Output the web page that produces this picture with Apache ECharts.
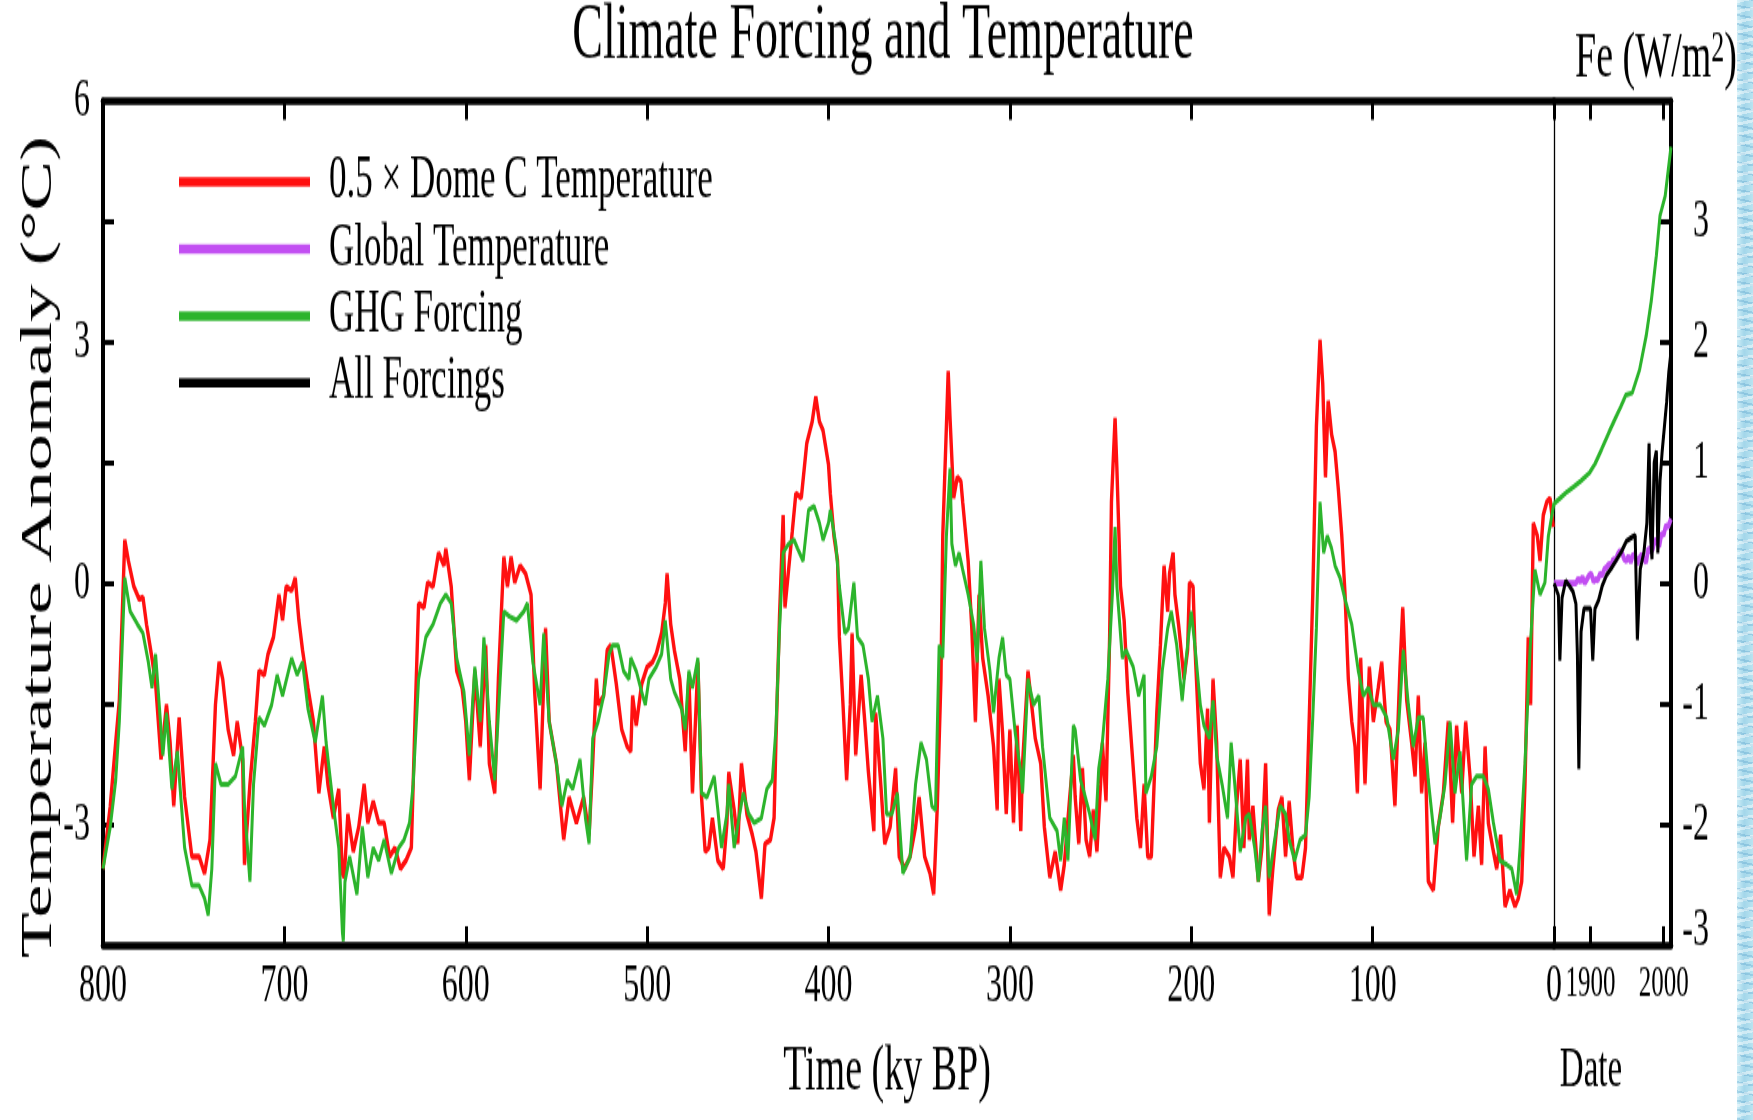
<!DOCTYPE html>
<html>
<head>
<meta charset="utf-8">
<title>Climate Forcing and Temperature</title>
<script src="https://cdn.jsdelivr.net/npm/echarts@6/dist/echarts.min.js"></script>
<style>
  html, body { margin: 0; padding: 0; background: #fff; width: 1753px; height: 1120px; overflow: hidden; }
  #chart {
    position: absolute; left: 0; top: 0;
    width: 1753px; height: 659px;
    transform: scaleY(1.6995); transform-origin: 0 0;
  }
  #edge {
    position: absolute; left: 1737px; top: 0; width: 16px; height: 1120px;
    background:
      repeating-linear-gradient(168deg, rgba(255,255,255,0.45) 0 3px, rgba(255,255,255,0) 3px 10px),
      repeating-linear-gradient(12deg, rgba(60,140,190,0.25) 0 2px, rgba(60,140,190,0) 2px 9px),
      linear-gradient(90deg, #cdeef7 0%, #a3d6ea 45%, #b9e4f1 100%);
  }
</style>
</head>
<body>
<div id="chart"></div>
<div id="edge"></div>
<script>
// ---- Paleo record: 0.5 x Dome C temperature (°C) vs. age (ky BP) ----
const domeCAge = [
  800,796,793,791,788,786,783,780,778,776,773,771,768,765,763,761,758,755,751,747,
  744,741,738,736,734,731,728,726,723,722,719,716,714,711,709,706,703,701,699,696,
  694,692,690,687,684,681,678,676,673,670,668,667,665,662,659,656,654,651,648,645,
  642,639,636,633,630,628,626,623,621,618,615,612,611,608,605,602,600,598,595,592,
  589,587,584,582,579,577,575,573,570,567,564,562,559,556,554,550,546,543,539,535,
  532,530,528,527,524,522,520,517,514,511,509,508,506,503,500,497,495,492,490,489,
  487,485,482,479,477,475,472,470,468,466,464,461,458,456,455,452,450,448,445,442,
  440,437,435,432,430,429,427,425,424,422,420,418,415,412,409,407,405,403,400,399,
  397,395,394,392,390,388,387,385,382,380,378,375,374,371,369,366,363,361,358,355,
  352,350,347,344,342,340,338,337,335,334,333,331,329,327,326,323,321,319,317,315,
  312,309,307,306,304,302,300,298,296,294,293,290,288,286,283,281,278,275,272,270,
  267,265,264,262,260,258,256,254,252,250,249,247,245,244,242,241,239,237,235,233,
  230,228,226,224,222,219,217,215,213,212,210,209,207,204,202,201,199,198,195,193,
  191,190,188,186,184,182,179,177,175,173,171,169,168,166,163,161,159,157,155,152,
  150,148,146,144,142,139,137,135,133,131,129,127.5,126,124.5,122.6,120.7,118.9,117,115.2,113.4,
  111.5,109.7,108.4,106.6,104.2,101.8,99.6,96.9,95,92.6,90.4,87.7,84.9,83.4,81.2,78.5,76.6,74.8,73,71.1,
  69.3,66.5,63.8,61,58.3,55.9,53.7,50.9,48.7,46.3,44.1,41.7,39.9,38,36.2,33.8,31.6,29.4,27,24.3,
  21.5,19.7,17.8,16,14.2,12.9,11.4,9.2,7.7,5.9,4,2.2,0.4
];
const domeCTemp = [
  -3.55,-2.77,-1.98,-1.46,0.54,0.28,-0.04,-0.20,-0.17,-0.51,-0.93,-1.25,-2.19,-1.51,-1.98,-2.77,-1.67,-2.66,-3.40,-3.40,
  -3.61,-3.19,-1.51,-0.98,-1.19,-1.82,-2.14,-1.72,-2.19,-3.50,-2.50,-1.72,-1.09,-1.14,-0.88,-0.67,-0.14,-0.46,-0.04,-0.09,
  0.07,-0.46,-0.83,-1.30,-1.72,-2.61,-2.03,-2.50,-2.92,-2.56,-3.61,-3.66,-2.87,-3.34,-3.03,-2.50,-2.98,-2.71,-2.98,-2.98,
  -3.40,-3.29,-3.55,-3.45,-3.29,-1.72,-0.25,-0.30,0.01,-0.04,0.38,0.22,0.43,-0.04,-1.09,-1.30,-1.72,-2.45,-1.09,-2.03,
  -0.77,-2.24,-2.61,-1.19,0.33,-0.04,0.33,0.01,0.22,0.12,-0.14,-1.35,-2.56,-0.56,-1.72,-2.24,-3.19,-2.66,-2.98,-2.66,
  -3.13,-2.24,-1.19,-1.51,-1.40,-0.83,-0.77,-1.25,-1.82,-2.03,-2.09,-1.40,-1.77,-1.25,-1.04,-0.98,-0.88,-0.62,-0.25,0.12,
  -0.51,-0.83,-1.19,-2.09,-1.14,-2.61,-0.98,-2.66,-3.34,-3.29,-2.92,-3.45,-3.55,-2.98,-2.35,-2.82,-3.24,-2.24,-2.87,-3.13,
  -3.34,-3.92,-3.24,-3.19,-2.92,-1.98,-0.41,0.85,-0.30,0.17,0.64,1.12,1.06,1.74,2.01,2.32,2.01,1.90,1.48,1.12,
  0.59,0.28,-0.67,-1.51,-2.45,-1.51,-0.62,-2.14,-1.14,-1.72,-2.35,-3.08,-1.61,-2.56,-3.24,-3.03,-2.30,-3.40,-3.55,-3.40,
  -3.03,-2.66,-3.40,-3.61,-3.87,-2.77,-1.19,0.59,1.95,2.64,2.06,1.06,1.32,1.27,1.01,0.28,-0.56,-1.72,-0.14,-0.93,
  -1.40,-2.03,-2.82,-1.19,-1.87,-2.87,-1.82,-2.98,-1.77,-3.08,-2.24,-1.09,-1.51,-1.93,-2.24,-3.03,-3.66,-3.34,-3.82,-3.50,
  -2.66,-2.14,-2.66,-3.24,-2.30,-3.19,-3.40,-2.82,-3.34,-2.50,-1.98,-2.71,-0.67,1.01,2.06,1.43,-0.04,-0.46,-1.35,-1.98,
  -2.92,-3.29,-2.50,-3.40,-3.40,-1.61,-0.77,0.22,-0.35,0.12,0.38,-0.14,-0.51,-1.19,-0.83,0.01,-0.04,-0.77,-2.24,-2.56,
  -1.56,-2.98,-1.19,-1.98,-3.66,-3.29,-3.40,-3.66,-2.77,-2.19,-3.29,-2.19,-3.19,-2.77,-3.71,-3.29,-2.24,-4.13,-3.55,-2.82,
  -2.66,-3.40,-2.71,-3.29,-3.66,-3.66,-3.29,-1.72,-0.14,1.95,3.03,2.48,1.32,2.27,1.85,1.64,1.17,0.59,-0.14,-1.19,
  -1.72,-2.03,-2.61,-0.93,-2.50,-1.04,-1.72,-1.30,-0.98,-1.72,-1.82,-2.77,-1.04,-0.30,-1.46,-1.98,-2.40,-1.40,-2.61,-1.98,
  -3.71,-3.82,-3.03,-2.61,-1.72,-2.98,-1.77,-2.61,-1.72,-2.40,-3.40,-2.77,-3.50,-2.03,-2.98,-3.29,-3.55,-3.13,-4.02,-3.82,
  -4.02,-3.92,-3.71,-2.50,-0.67,-1.51,0.75,0.59,0.28,0.85,1.01,1.06,0.70
];

// ---- Paleo GHG forcing, drawn on the temperature scale (1 W/m² = 1.5 °C) ----
const ghgPaleoAge = [
  800,796,793,791,788,785,781,778,775,773,771,769,767,765,762,759,755,751,747,744,
  742,740,738,735,731,727,723,722,719,717,714,711,707,704,701,696,693,690,687,683,
  679,677,673,670,668,667.5,666.6,664,660,657,654,651,648,645,641,637,634,631,629,626,
  622,618,614,611,608,605,601,598,595,592,590,587,584,581,579,576,572,568,566,563,
  559,557,554,550,547,544,541,537,534,532,530,527,524,521,519,516,513,510,509,506,
  503,501,499,495,492,490,487,485,481,479,477,475,472,470,467,463,461,459,456,455,
  452,449,447,444,441,437,434,431,429,427,425,422,419,417,414,411,408,405,403,400,
  399,396,394,391,389,386,384,381,378,376,373,370,368,365,362,359,355,352,349,346,
  343,341,339,337,335,333,332,330,328,326,323,320,318,316,314,311,309,306,304,302,
  300,297,294,293,290,287,284,282,278,274,272,270,268,265,264,261,259,256,253,251,
  249,246,243.5,242,241,238,236,232,229,226,225,222,219,216,213,211,208,205,203,200,
  198,195,193,190,188,186,183,180,178,176,173,170,168,165,163,161,159,157,154,151,
  148,146,143,140,137,135,133,131,129,127,125,122.6,120.7,118,115.2,111.5,107.9,105.1,102.3,99.6,
  95.9,92.2,88.6,85.8,83.1,80.3,77.6,74.8,72.1,69.3,65.6,62.9,60.1,57.3,54.6,51.8,48.2,45.4,42.6,39,
  36.2,33.4,29.8,26.1,23.3,20.6,18.7,16,13.2,10.5,7.7,5,3.1,0
];
const ghgPaleoTemp = [
  -3.55,-3.03,-2.45,-1.72,0.07,-0.35,-0.51,-0.62,-0.98,-1.30,-0.88,-1.51,-2.14,-1.61,-2.56,-2.09,-3.29,-3.76,-3.76,-3.92,
  -4.13,-3.55,-2.24,-2.50,-2.50,-2.40,-2.03,-2.77,-3.71,-2.50,-1.67,-1.77,-1.51,-1.14,-1.40,-0.93,-1.14,-0.98,-1.56,-1.98,
  -1.40,-1.98,-2.77,-3.29,-4.34,-4.45,-3.71,-3.40,-3.87,-3.03,-3.66,-3.29,-3.45,-3.19,-3.61,-3.29,-3.19,-2.98,-2.50,-1.19,
  -0.67,-0.51,-0.25,-0.14,-0.25,-0.93,-1.35,-2.14,-1.04,-1.72,-0.67,-1.72,-2.45,-1.19,-0.35,-0.41,-0.46,-0.35,-0.25,-0.98,
  -1.51,-0.62,-1.72,-2.24,-2.77,-2.45,-2.56,-2.19,-2.92,-3.24,-1.93,-1.72,-1.40,-0.88,-0.77,-0.77,-1.09,-1.19,-0.93,-1.09,
  -1.35,-1.51,-1.19,-1.04,-0.88,-0.46,-1.19,-1.35,-1.56,-1.82,-1.09,-1.30,-0.93,-2.61,-2.66,-2.40,-2.82,-3.29,-2.87,-2.50,
  -3.29,-2.87,-2.61,-2.87,-2.98,-2.92,-2.56,-2.45,-1.82,-0.57,0.38,0.49,0.54,0.43,0.28,0.91,0.96,0.75,0.54,0.75,
  0.91,0.49,-0.04,-0.62,-0.56,0.01,-0.67,-0.77,-1.19,-1.72,-1.40,-1.93,-2.87,-2.87,-2.61,-3.61,-3.40,-2.50,-1.98,-2.19,
  -2.77,-2.82,-0.77,-0.93,0.59,1.43,0.49,0.22,0.38,0.17,-0.14,-0.51,-0.98,0.28,-0.56,-1.09,-1.61,-0.93,-0.67,-1.14,
  -1.19,-1.87,-2.35,-2.61,-1.19,-1.51,-1.40,-2.03,-2.92,-3.08,-3.45,-2.92,-3.45,-1.77,-1.82,-2.45,-2.61,-2.87,-3.19,-2.30,
  -1.98,-1.19,-0.14,0.70,-0.04,-0.93,-0.83,-1.04,-1.40,-1.14,-2.61,-2.40,-2.03,-1.09,-0.56,-0.35,-0.77,-1.46,-0.98,-0.35,
  -0.77,-1.51,-1.77,-1.93,-1.46,-2.14,-2.50,-2.92,-1.98,-2.50,-3.34,-2.92,-2.87,-3.29,-3.71,-3.08,-2.77,-3.66,-3.19,-2.77,
  -2.87,-3.19,-3.45,-3.19,-3.13,-2.66,-1.67,-0.56,1.01,0.38,0.59,0.43,0.22,0.07,-0.20,-0.51,-1.09,-1.40,-1.30,-1.51,
  -1.51,-1.67,-2.19,-1.82,-0.83,-1.51,-2.03,-1.67,-1.67,-2.45,-3.24,-2.92,-2.50,-1.72,-2.61,-2.09,-3.45,-2.50,-2.40,-2.40,
  -2.56,-2.98,-3.45,-3.50,-3.55,-3.87,-3.29,-2.24,-0.83,0.17,-0.14,0.01,0.59,1.00
];

// ---- Instrumental era (right panel) ----
const recentGhgYears   = [1850,1859,1868,1877,1887,1899,1906,1915,1925,1934,1941,1948,1957,1967,1976,1983,1990,1995,2002,2010];
const recentGhgForcing = [0.66,0.71,0.76,0.80,0.85,0.92,0.99,1.11,1.25,1.37,1.46,1.56,1.58,1.77,2.05,2.34,2.72,3.05,3.21,3.62];

const allForcingYears  = [1850,1853,1856,1858,1861,1866,1871,1876,1880,1882,1884,1887,1891,1896,1900,1903,1906,1911,1916,1922,
                          1928,1935,1942,1949,1956,1961,1964,1968,1973,1977,1980,1982,1984,1987,1990,1992,1995,1998,2001,2004,2007,2010];
const allForcingValues = [0.00,-0.05,-0.10,-0.64,-0.12,0.02,-0.02,-0.07,-0.17,-0.59,-1.54,-0.40,-0.21,-0.21,-0.21,-0.64,-0.21,-0.14,-0.02,0.07,
                          0.12,0.19,0.26,0.35,0.38,0.40,-0.47,0.12,0.26,0.50,1.16,0.40,0.20,1.00,1.10,0.25,0.85,1.10,1.30,1.50,1.75,1.92];

const globalTempYears  = [1850,1880,1883,1886,1889,1892,1895,1898,1901,1904,1907,1910,1913,1916,1919,1922,1925,1928,1931,1934,
                          1937,1940,1943,1946,1949,1952,1955,1958,1961,1964,1967,1970,1973,1976,1979,1982,1985,1988,1991,1994,
                          1997,2000,2003,2006,2010];
const globalTempValues = [0.00,0.00,0.06,0.02,0.08,0.00,0.05,0.10,0.12,0.02,0.05,0.04,0.12,0.10,0.18,0.20,0.24,0.22,0.30,0.28,
                          0.36,0.40,0.38,0.30,0.28,0.34,0.26,0.36,0.34,0.24,0.32,0.36,0.30,0.26,0.44,0.40,0.42,0.55,0.50,0.46,
                          0.62,0.60,0.72,0.70,0.80];

// Axis ticks / labels
const kyTicks   = [800, 700, 600, 500, 400, 300, 200, 100, 0];
const dateTicks = [1900, 2000];
const legendNames = ['0.5 \u00d7 Dome C Temperature', 'Global Temperature', 'GHG Forcing', 'All Forcings'];

const zip = (xs, ys) => xs.map((x, i) => [x, ys[i]]);

// Layout is drawn in a vertically compressed frame that CSS stretches back out.
const SY = 1.6995;
const px = v => v / SY;          // full-height pixel -> frame pixel
const frameTop = px(101), frameBottom = px(945);
const leftEdge = 103, splitX = 1554, rightEdge = 1671;

const SERIF = '"Liberation Serif", "Times New Roman", serif';
const RED = '#ff1010', GREEN = '#2cb42c', PURPLE = '#c24ef2', BLACK = '#000';

const frameLine = { onZero: false, lineStyle: { color: '#000', width: 4.5 } };
const inTick = { inside: true, length: 11, lineStyle: { color: '#000', width: 3 } };
const plain = v => String(v);

const chart = echarts.init(document.getElementById('chart'), null, { renderer: 'canvas' });

chart.setOption({
  animation: false,
  backgroundColor: '#fff',
  grid: [
    { left: leftEdge, top: frameTop, width: splitX - leftEdge, height: frameBottom - frameTop },
    { left: splitX, top: frameTop, width: rightEdge - splitX, height: frameBottom - frameTop }
  ],
  xAxis: [
    { type: 'value', gridIndex: 0, position: 'bottom', min: 0, max: 800, interval: 100, inverse: true,
      axisLine: frameLine, axisTick: inTick, splitLine: { show: false },
      axisLabel: { margin: 9, color: '#000', fontFamily: SERIF, fontSize: 32, formatter: plain,
                   customValues: kyTicks } },
    { type: 'value', gridIndex: 0, position: 'top', min: 0, max: 800, interval: 100, inverse: true,
      axisLine: frameLine, axisTick: inTick, splitLine: { show: false }, axisLabel: { show: false } },
    { type: 'value', gridIndex: 1, position: 'bottom', min: 1850, max: 2010,
      axisLine: frameLine, axisTick: Object.assign({ customValues: dateTicks }, inTick), splitLine: { show: false },
      axisLabel: { margin: 11, color: '#000', fontFamily: SERIF, fontSize: 25, formatter: plain, customValues: dateTicks } },
    { type: 'value', gridIndex: 1, position: 'top', min: 1850, max: 2010,
      axisLine: frameLine, axisTick: Object.assign({ customValues: dateTicks }, inTick), splitLine: { show: false },
      axisLabel: { show: false } }
  ],
  yAxis: [
    { type: 'value', gridIndex: 0, position: 'left', min: -4.5, max: 6, interval: 1.5,
      axisLine: { show: true, onZero: false, lineStyle: { color: '#000', width: 4 } }, axisTick: inTick, splitLine: { show: false },
      axisLabel: { margin: 13, color: '#000', fontFamily: SERIF, fontSize: 32,
                   formatter: v => (Math.abs(v % 3) < 1e-9 ? String(v) : '') } },
    { type: 'value', gridIndex: 1, position: 'left', min: -4.5, max: 6, interval: 1.5,
      axisLine: { show: true, onZero: false, lineStyle: { color: '#000', width: 1.3 } },
      axisTick: { show: false }, axisLabel: { show: false }, splitLine: { show: false } },
    { type: 'value', gridIndex: 1, position: 'right', min: -3, max: 4, interval: 1,
      axisLine: { show: true, onZero: false, lineStyle: { color: '#000', width: 4 } }, axisTick: inTick, splitLine: { show: false },
      axisLabel: { margin: 38, align: 'right', color: '#000', fontFamily: SERIF, fontSize: 32,
                   formatter: v => (v === 4 ? '' : v === -3 ? '{low|-3}' : String(v)),
                   rich: { low: { fontFamily: SERIF, fontSize: 32, color: '#000', padding: [0, 0, 16, 0] } } } }
  ],
  legend: {
    orient: 'vertical', left: 179, top: px(182) - 17.5, padding: 0,
    itemWidth: 131, itemHeight: 5.5, itemGap: 4.4, icon: 'rect', selectedMode: false,
    data: legendNames,
    textStyle: { fontFamily: SERIF, fontSize: 35, lineHeight: 35, color: '#000', padding: [0, 0, 0, 14] }
  },
  series: [
    { name: legendNames[0], type: 'line', xAxisIndex: 0, yAxisIndex: 0, data: zip(domeCAge, domeCTemp),
      showSymbol: false, color: RED, lineStyle: { width: 3.4, color: RED }, z: 2 },
    { name: legendNames[1], type: 'line', xAxisIndex: 2, yAxisIndex: 1, data: zip(globalTempYears, globalTempValues),
      showSymbol: false, color: PURPLE, lineStyle: { width: 3.8, color: PURPLE }, z: 3 },
    { name: legendNames[2], type: 'line', xAxisIndex: 0, yAxisIndex: 0, data: zip(ghgPaleoAge, ghgPaleoTemp),
      showSymbol: false, color: GREEN, lineStyle: { width: 3, color: GREEN }, z: 4 },
    { name: legendNames[2], type: 'line', xAxisIndex: 2, yAxisIndex: 2, data: zip(recentGhgYears, recentGhgForcing),
      showSymbol: false, color: GREEN, lineStyle: { width: 3, color: GREEN }, z: 4 },
    { name: legendNames[3], type: 'line', xAxisIndex: 2, yAxisIndex: 2, data: zip(allForcingYears, allForcingValues),
      showSymbol: false, color: BLACK, lineStyle: { width: 3, color: BLACK }, z: 5 }
  ],
  graphic: [
    { type: 'text', x: 883, y: px(37), style: { text: 'Climate Forcing and Temperature', fontFamily: SERIF, fontSize: 46,
      fill: '#000', align: 'center', verticalAlign: 'middle' } },
    { type: 'text', x: 1656, y: px(60), style: { text: '{a|Fe (W/m}{s|2}{a|)}', fill: '#000', align: 'center', verticalAlign: 'middle',
      rich: { a: { fontFamily: SERIF, fontSize: 38, color: '#000' },
              s: { fontFamily: SERIF, fontSize: 26, color: '#000', verticalAlign: 'top', padding: [0, 0, 12, 0] } } } },
    { type: 'text', x: 39, y: px(547), rotation: Math.PI / 2, style: { text: 'Temperature Anomaly (\u00b0C)',
      fontFamily: SERIF, fontSize: 44, fill: '#000', align: 'center', verticalAlign: 'middle' } },
    { type: 'text', x: 887, y: px(1072), style: { text: 'Time (ky BP)', fontFamily: SERIF, fontSize: 38,
      fill: '#000', align: 'center', verticalAlign: 'middle' } },
    { type: 'text', x: 1591, y: px(1072), style: { text: 'Date', fontFamily: SERIF, fontSize: 33,
      fill: '#000', align: 'center', verticalAlign: 'middle' } }
  ]
});
</script>
</body>
</html>
